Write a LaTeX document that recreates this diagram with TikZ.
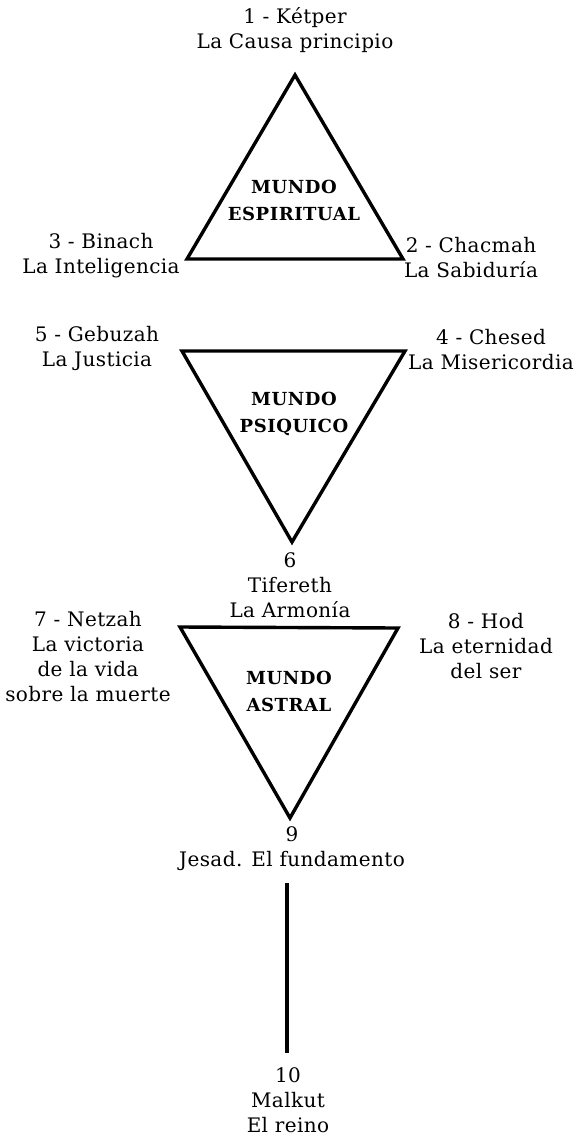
\documentclass[tikz,border=0pt]{standalone}
\usepackage{fontspec}
\setmainfont{DejaVu Serif}
\begin{document}
\begin{tikzpicture}[x=1pt,y=-1pt,
  lbl/.style={align=center,inner sep=0pt,font=\fontsize{20}{25}\selectfont\addfontfeature{LetterSpace=2}},
  world/.style={align=center,inner sep=0pt,font=\fontsize{18}{27}\selectfont\bfseries\addfontfeature{LetterSpace=3}},
  tri/.style={line width=3.4pt,line join=miter}]
\useasboundingbox (0,0) rectangle (577,1136);
% triangle vertices
\coordinate (a1) at (295,75);
\coordinate (b1) at (187,259);
\coordinate (c1) at (403,259);
\coordinate (a2) at (182,351);
\coordinate (b2) at (405,351);
\coordinate (c2) at (292,542);
\coordinate (a3) at (180,627);
\coordinate (b3) at (398,628);
\coordinate (c3) at (290,818);
\coordinate (l1) at (287,883);
\coordinate (l2) at (287,1053);
\draw[tri] (a1) -- (b1) -- (c1) -- cycle;
\draw[tri] (a2) -- (b2) -- (c2) -- cycle;
\draw[tri] (a3) -- (b3) -- (c3) -- cycle;
\draw[line width=3.4pt] (l1) -- (l2);
% labels
\node[lbl] (s1) at (295,30) {1 - Kétper\\La Causa principio};
\node[world] (w1) at (294,200) {MUNDO\\ESPIRITUAL};
\node[lbl] (s3) at (101,256) {3 - Binach\\La Inteligencia};
\node[lbl] (s2) at (471,258) {2 - Chacmah\\La Sabiduría};
\node[lbl] (s5) at (97,348) {5 - Gebuzah\\La Justicia};
\node[lbl] (s4) at (491,350) {4 - Chesed\\La Misericordia};
\node[world] (w2) at (294,414) {MUNDO\\PSIQUICO};
\node[lbl] (s6) at (290,585) {6\\Tifereth\\La Armonía};
\node[lbl] (s7) at (88,657) {7 - Netzah\\La victoria\\de la vida\\sobre la muerte};
\node[lbl] (s8) at (486,646) {8 - Hod\\La eternidad\\del ser};
\node[world] (w3) at (289,691) {MUNDO\\ASTRAL};
\node[lbl] (s9) at (292,849) {9\\Jesad. El fundamento};
\node[lbl] (s10) at (288,1100) {10\\Malkut\\El reino};
\end{tikzpicture}
\end{document}
